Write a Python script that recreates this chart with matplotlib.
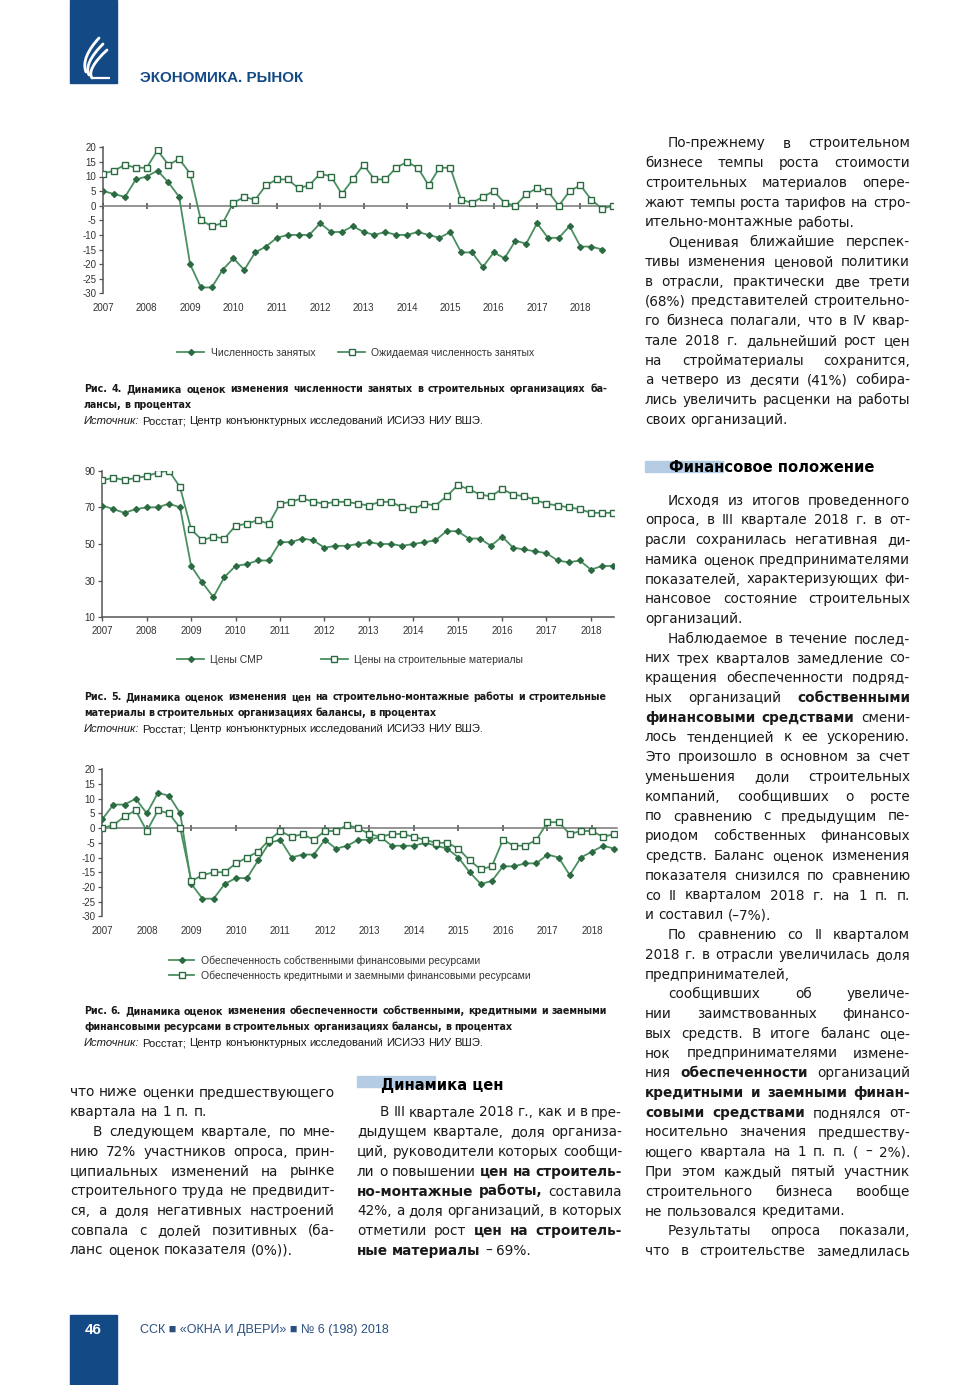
import numpy as np
import matplotlib
matplotlib.use("Agg")
import matplotlib.pyplot as plt
from matplotlib import font_manager
from matplotlib.lines import Line2D
from matplotlib.patches import Rectangle, PathPatch
from matplotlib.path import Path

plt.rcParams["axes.unicode_minus"] = False

# ---- data (quarterly, from Q1 2007) ----
years = list(range(2007, 2019))

# Fig. 4: employment balance
employment = [5, 4, 3, 9, 10, 12, 8, 3, -20, -28, -28, -22, -18, -22, -16, -14,
              -11, -10, -10, -10, -6, -9, -9, -7, -9, -10, -9, -10, -10, -9, -10,
              -11, -9, -16, -16, -21, -16, -18, -12, -13, -6, -11, -11, -7, -14,
              -14, -15]
expected_employment = [11, 12, 14, 13, 13, 19, 14, 16, 11, -5, -7, -6, 1, 3, 2, 7,
                       9, 9, 6, 7, 11, 10, 4, 9, 14, 9, 9, 13, 15, 13, 7, 13, 13,
                       2, 1, 3, 5, 1, 0, 4, 6, 5, 0, 5, 7, 2, -1, 0]

# Fig. 5: prices
smr_prices = [71, 69, 67, 69, 70, 70, 72, 70, 38, 29, 21, 32, 38, 39, 41, 41, 51,
              51, 53, 52, 48, 49, 49, 50, 51, 50, 50, 49, 50, 51, 52, 57, 57, 53,
              53, 49, 54, 48, 47, 46, 45, 41, 40, 41, 36, 38, 38]
material_prices = [85, 86, 85, 86, 87, 89, 90, 81, 58, 52, 54, 53, 60, 61, 63, 61,
                   72, 73, 75, 73, 72, 73, 73, 72, 71, 73, 73, 70, 69, 72, 71, 76,
                   82, 80, 77, 76, 80, 77, 76, 74, 72, 71, 70, 69, 67, 67, 67]

# Fig. 6: financial resources
own_funds = [3, 8, 8, 10, 5, 12, 11, 5, -19, -24, -24, -19, -17, -17, -11, -5, -4,
             -10, -9, -9, -4, -7, -6, -4, -4, -3, -6, -6, -6, -5, -6, -7, -10, -15,
             -19, -18, -13, -13, -12, -12, -9, -10, -16, -10, -8, -6, -7]
credit_funds = [0, 1, 4, 6, -1, 6, 5, 0, -18, -16, -15, -15, -12, -10, -8, -4, -1,
                -3, -2, -4, -1, -1, 1, 0, -2, -3, -2, -2, -3, -4, -5, -5, -7, -11,
                -14, -13, -4, -6, -6, -4, 2, 2, -2, -1, -1, -3, -2]

W, H = 980, 1385
fig = plt.figure(figsize=(9.8, 13.85), dpi=100)
r = fig.canvas.get_renderer()


def fx(x):
    return x / W


def fy(y):
    return 1 - y / H


SANS = "Liberation Sans"
TXT = "DejaVu Sans"
LINE = "#4a8f60"
DARK = "#2c6b42"
INK = "#1a1a1a"
BLUE = "#134a86"

# condensed face for figure captions, if one is installed
fonts = font_manager.fontManager.ttflist
CAP_FAM, CAP_STRETCH = SANS, "normal"
if any(f.name == "Liberation Sans Narrow" for f in fonts):
    CAP_FAM = "Liberation Sans Narrow"
else:
    for fam in ("Noto Sans", "DejaVu Sans", "Open Sans"):
        if any(f.name == fam and f.stretch == "condensed" and f.weight in (700, "bold")
               for f in fonts):
            CAP_FAM, CAP_STRETCH = fam, "condensed"
            break


def words_at(text, size, fam, weight, color, y, stretch="normal"):
    items = []
    for w in text.split(" "):
        wt, st = weight, "normal"
        if len(w) > 2 and w[0] == "*" and w[-1] == "*":
            w, wt = w[1:-1], "bold"
        elif len(w) > 2 and w[0] == "_" and w[-1] == "_":
            w, st = w[1:-1], "italic"
        t = fig.text(0, fy(y), w, fontsize=size, family=[fam, "DejaVu Sans"],
                     weight=wt, style=st, stretch=stretch, color=color,
                     va="baseline", ha="left")
        items.append(t)
    return items


def line(x0, x1, y, text, size=9.8, just=True, fam=TXT, color=INK, weight="normal",
         off=4.5, space=0.32, stretch="normal"):
    items = words_at(text, size, fam, weight, color, y + off, stretch)
    widths = [t.get_window_extent(renderer=r).width for t in items]
    gap = space * size * 100 / 72
    if just and len(items) > 1:
        gap = (x1 - x0 - sum(widths)) / (len(items) - 1)
    x = x0
    for t, w in zip(items, widths):
        t.set_x(fx(x))
        x += w + gap


def fit_size(text, width, fam, weight, stretch, start=9.2):
    s = start
    while s > 6:
        items = words_at(text, s, fam, weight, INK, -100, stretch)
        tot = sum(t.get_window_extent(renderer=r).width for t in items)
        tot += (len(items) - 1) * 0.26 * s * 100 / 72
        for t in items:
            t.remove()
        if tot <= width:
            return s
        s -= 0.1
    return s


def column(x0, x1, y0, rows, step=19.75):
    # rows: (text, indent, justify)
    for i, (txt, ind, just) in enumerate(rows):
        line(x0 + (23 if ind else 0), x1, y0 + i * step, txt, just=just)


def caption(y, first, second):
    s = fit_size(first, 523, CAP_FAM, "bold", CAP_STRETCH)
    line(84, 607, y, first, size=s, fam=CAP_FAM, weight="bold", off=3.5, space=0.26,
         stretch=CAP_STRETCH)
    line(84, 607, y + 16, second, size=s, fam=CAP_FAM, weight="bold", just=False,
         off=3.5, space=0.26, stretch=CAP_STRETCH)
    line(84, 607, y + 32, "_Источник:_ Росстат; Центр конъюнктурных исследований ИСИЭЗ НИУ ВШЭ.",
         size=8.1, fam=SANS, just=False, off=3.5, space=0.27)


def chart(left, top, right, bottom, s1, s2, xmax, ylim, yticks, zero):
    ax = fig.add_axes([fx(left), fy(bottom), (right - left) / W, (bottom - top) / H])
    ax.patch.set_alpha(0)
    x1 = 2007 + np.arange(len(s1)) / 4
    x2 = 2007 + np.arange(len(s2)) / 4
    ax.plot(x1, s1, color=LINE, lw=1.3, marker="D", ms=3, mfc=DARK, mec=DARK, zorder=3)
    ax.plot(x2, s2, color=LINE, lw=1.3, marker="s", ms=4.6, mfc="white", mec=DARK,
            mew=1.0, zorder=3)
    ax.set_xlim(2007, xmax)
    ax.set_ylim(*ylim)
    ax.set_yticks(yticks)
    ax.set_yticklabels([str(v) for v in yticks])
    for s in ("top", "right"):
        ax.spines[s].set_visible(False)
    ax.spines["left"].set_color("#555555")
    ax.spines["left"].set_linewidth(1.1)
    ax.tick_params(axis="y", direction="out", length=3, width=0.9, color="#555555",
                   labelsize=7, labelcolor="#333333", pad=2)
    ax.set_xticks(years)
    if zero:
        ax.spines["bottom"].set_position(("data", 0))
        ax.spines["bottom"].set_color("#777777")
        ax.spines["bottom"].set_linewidth(1.1)
        ax.tick_params(axis="x", direction="inout", length=4, width=1.2,
                       color="#555555", labelbottom=False)
        sec = ax.secondary_xaxis("bottom")
        sec.spines["bottom"].set_visible(False)
        sec.set_xticks(years)
        sec.tick_params(length=0, labelsize=7, labelcolor="#333333", pad=7)
        for lab in sec.get_xticklabels():
            lab.set_family(SANS)
    else:
        ax.spines["bottom"].set_color("#555555")
        ax.spines["bottom"].set_linewidth(1.1)
        ax.tick_params(axis="x", direction="out", length=3, width=1.0,
                       color="#555555", labelsize=7, labelcolor="#333333", pad=3)
    for lab in ax.get_xticklabels() + ax.get_yticklabels():
        lab.set_family(SANS)
    return ax


def handles():
    h1 = Line2D([], [], color=LINE, lw=1.3, marker="D", ms=3, mfc=DARK, mec=DARK)
    h2 = Line2D([], [], color=LINE, lw=1.3, marker="s", ms=4.2, mfc="white", mec=DARK)
    return [h1, h2]


# ---- header / footer ----
fig.patches.append(Rectangle((fx(70), fy(83)), 47 / W, 83 / H, transform=fig.transFigure,
                             color=BLUE, zorder=0))
for k in range(3):
    pts = [(99 + 4 * k, 38 + 6 * k), (88 + 3 * k, 50 + 6 * k),
           (82 + 3 * k, 62 + 5 * k), (86 + 3 * k, 72 + 3 * k)]
    verts = [(fx(a), fy(b)) for a, b in pts]
    fig.patches.append(PathPatch(Path(verts, [Path.MOVETO, Path.CURVE4, Path.CURVE4, Path.CURVE4]),
                                 fill=False, ec="white", lw=2.0, capstyle="round",
                                 transform=fig.transFigure))
tail = [(fx(a), fy(b)) for a, b in [(92, 78), (110, 78)]]
fig.patches.append(PathPatch(Path(tail), fill=False, ec="white", lw=1.6,
                             transform=fig.transFigure))
fig.text(fx(140), fy(78), "ЭКОНОМИКА. РЫНОК", fontsize=10.9, family=SANS, weight="bold",
         color=BLUE, va="center")
fig.patches.append(Rectangle((fx(70), 0), 47 / W, 70 / H, transform=fig.transFigure,
                             color=BLUE, zorder=0))
fig.text(fx(93), fy(1330), "46", fontsize=11, family=SANS, weight="bold", color="white",
         ha="center", va="center")
fig.text(fx(140), fy(1330), "ССК ■ «ОКНА И ДВЕРИ» ■ № 6 (198) 2018", fontsize=9,
         family=[SANS, "DejaVu Sans"], color="#2a4f80", va="center")

# ---- Fig. 4 ----
ax1 = chart(103.3, 147.3, 613, 293.3, employment, expected_employment, 2018.75,
            (-30, 20), list(range(20, -31, -5)), True)
ax1.legend(handles(), ["Численность занятых", "Ожидаемая численность занятых"],
           loc="center", bbox_to_anchor=(fx(356), fy(353)), bbox_transform=fig.transFigure,
           ncol=2, frameon=False, prop={"family": SANS, "size": 7.5}, handlelength=2.6,
           columnspacing=2.2, handletextpad=0.6, labelcolor="#333333")
caption(389, "Рис. 4. Динамика оценок изменения численности занятых в строительных организациях ба-",
        "лансы, в процентах")

# ---- Fig. 5 ----
ax2 = chart(102.3, 470.7, 614, 617.3, smr_prices, material_prices, 2018.52,
            (10, 90), [10, 30, 50, 70, 90], False)
ax2.legend(handles(), ["Цены СМР", "Цены на строительные материалы"],
           loc="center", bbox_to_anchor=(fx(350), fy(660)), bbox_transform=fig.transFigure,
           ncol=2, frameon=False, prop={"family": SANS, "size": 7.5}, handlelength=2.6,
           columnspacing=5.5, handletextpad=0.6, labelcolor="#333333")
caption(697, "Рис. 5. Динамика оценок изменения цен на строительно-монтажные работы и строительные",
        "материалы в строительных организациях балансы, в процентах")

# ---- Fig. 6 ----
ax3 = chart(102.3, 769.3, 616.5, 916.3, own_funds, credit_funds, 2018.55,
            (-30, 20), list(range(20, -31, -5)), True)
ax3.legend(handles(), ["Обеспеченность собственными финансовыми ресурсами",
                       "Обеспеченность кредитными и заемными финансовыми ресурсами"],
           loc="upper left", bbox_to_anchor=(fx(160), fy(946)), bbox_transform=fig.transFigure,
           ncol=1, frameon=False, prop={"family": SANS, "size": 7.5}, handlelength=2.4,
           handletextpad=0.6, labelspacing=0.45, labelcolor="#333333")
caption(1011, "Рис. 6. Динамика оценок изменения обеспеченности собственными, кредитными и заемными",
        "финансовыми ресурсами в строительных организациях балансы, в процентах")

# ---- right column ----
column(645, 910, 143, [
    ("По-прежнему в строительном", True, True),
    ("бизнесе темпы роста стоимости", False, True),
    ("строительных материалов опере-", False, True),
    ("жают темпы роста тарифов на стро-", False, True),
    ("ительно-монтажные работы.", False, False),
    ("Оценивая ближайшие перспек-", True, True),
    ("тивы изменения ценовой политики", False, True),
    ("в отрасли, практически две трети", False, True),
    ("(68%) представителей строительно-", False, True),
    ("го бизнеса полагали, что в IV квар-", False, True),
    ("тале 2018 г. дальнейший рост цен", False, True),
    ("на стройматериалы сохранится,", False, True),
    ("а четверо из десяти (41%) собира-", False, True),
    ("лись увеличить расценки на работы", False, True),
    ("своих организаций.", False, False),
])
fig.patches.append(Rectangle((fx(645), fy(472)), 78 / W, 11 / H, transform=fig.transFigure,
                             color="#b5cde4", zorder=0))
fig.text(fx(669), fy(472), "Финансовое положение", fontsize=10.6, family="DejaVu Sans",
         weight="bold", color="black", va="baseline")
column(645, 910, 500, [
    ("Исходя из итогов проведенного", True, True),
    ("опроса, в III квартале 2018 г. в от-", False, True),
    ("расли сохранилась негативная ди-", False, True),
    ("намика оценок предпринимателями", False, True),
    ("показателей, характеризующих фи-", False, True),
    ("нансовое состояние строительных", False, True),
    ("организаций.", False, False),
    ("Наблюдаемое в течение послед-", True, True),
    ("них трех кварталов замедление со-", False, True),
    ("кращения обеспеченности подряд-", False, True),
    ("ных организаций *собственными*", False, True),
    ("*финансовыми* *средствами* смени-", False, True),
    ("лось тенденцией к ее ускорению.", False, True),
    ("Это произошло в основном за счет", False, True),
    ("уменьшения доли строительных", False, True),
    ("компаний, сообщивших о росте", False, True),
    ("по сравнению с предыдущим пе-", False, True),
    ("риодом собственных финансовых", False, True),
    ("средств. Баланс оценок изменения", False, True),
    ("показателя снизился по сравнению", False, True),
    ("со II кварталом 2018 г. на 1 п. п.", False, True),
    ("и составил (–7%).", False, False),
    ("По сравнению со II кварталом", True, True),
    ("2018 г. в отрасли увеличилась доля", False, True),
    ("предпринимателей,", False, False),
    ("сообщивших об увеличе-", True, True),
    ("нии заимствованных финансо-", False, True),
    ("вых средств. В итоге баланс оце-", False, True),
    ("нок предпринимателями измене-", False, True),
    ("ния *обеспеченности* организаций", False, True),
    ("*кредитными* *и* *заемными* *финан-*", False, True),
    ("*совыми* *средствами* поднялся от-", False, True),
    ("носительно значения предшеству-", False, True),
    ("ющего квартала на 1 п. п. ( – 2%).", False, True),
    ("При этом каждый пятый участник", False, True),
    ("строительного бизнеса вообще", False, True),
    ("не пользовался кредитами.", False, False),
    ("Результаты опроса показали,", True, True),
    ("что в строительстве замедлилась", False, True),
], step=19.75)

# ---- bottom left column ----
column(70, 335, 1092, [
    ("что ниже оценки предшествующего", False, True),
    ("квартала на 1 п. п.", False, False),
    ("В следующем квартале, по мне-", True, True),
    ("нию 72% участников опроса, прин-", False, True),
    ("ципиальных изменений на рынке", False, True),
    ("строительного труда не предвидит-", False, True),
    ("ся, а доля негативных настроений", False, True),
    ("совпала с долей позитивных (ба-", False, True),
    ("ланс оценок показателя (0%)).", False, False),
])

# ---- bottom middle column ----
fig.patches.append(Rectangle((fx(357), fy(1087)), 78 / W, 11 / H, transform=fig.transFigure,
                             color="#b5cde4", zorder=0))
fig.text(fx(381), fy(1090), "Динамика цен", fontsize=10.6, family="DejaVu Sans",
         weight="bold", color="black", va="baseline")
column(357, 622, 1112, [
    ("В III квартале 2018 г., как и в пре-", True, True),
    ("дыдущем квартале, доля организа-", False, True),
    ("ций, руководители которых сообщи-", False, True),
    ("ли о повышении *цен* *на* *строитель-*", False, True),
    ("*но-монтажные* *работы,* составила", False, True),
    ("42%, а доля организаций, в которых", False, True),
    ("отметили рост *цен* *на* *строитель-*", False, True),
    ("*ные* *материалы* – 69%.", False, False),
])

fig.savefig("out.png", dpi=100, facecolor="white")
